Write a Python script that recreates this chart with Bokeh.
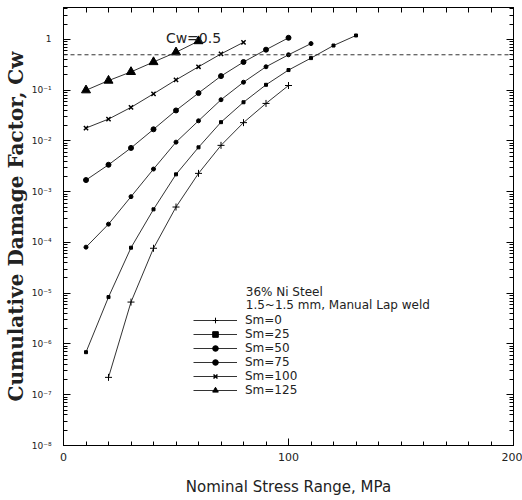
from bokeh.plotting import figure
from bokeh.models import (FixedTicker, LinearAxis, LogAxis, Span, Label, Legend,
                          LegendItem, Range1d, CustomJSTickFormatter)
from bokeh.embed import file_html
from bokeh.resources import INLINE

# ---- data ----
series_labels = ["Sm=0", "Sm=25", "Sm=50", "Sm=75", "Sm=100", "Sm=125"]

stress_sm0 = [20, 30, 40, 50, 60, 70, 80, 90, 100]
cw_sm0 = [2.2e-7, 6.7e-6, 7.7e-5, 5.0e-4, 2.3e-3, 8.2e-3, 0.023, 0.055, 0.124]

stress_sm25 = [10, 20, 30, 40, 50, 60, 70, 80, 90, 100, 110, 120, 130]
cw_sm25 = [6.9e-7, 8.4e-6, 7.9e-5, 4.5e-4, 2.2e-3, 7.5e-3, 0.0235, 0.058,
           0.128, 0.25, 0.43, 0.76, 1.2]

stress_sm50 = [10, 20, 30, 40, 50, 60, 70, 80, 90, 100, 110]
cw_sm50 = [8.1e-5, 2.3e-4, 8.0e-4, 2.8e-3, 9.5e-3, 0.025, 0.065, 0.144,
           0.29, 0.50, 0.83]

stress_sm75 = [10, 20, 30, 40, 50, 60, 70, 80, 90, 100]
cw_sm75 = [1.7e-3, 3.4e-3, 7.3e-3, 0.017, 0.040, 0.088, 0.19, 0.36, 0.63, 1.08]

stress_sm100 = [10, 20, 30, 40, 50, 60, 70, 80]
cw_sm100 = [0.018, 0.027, 0.046, 0.085, 0.16, 0.29, 0.52, 0.88]

stress_sm125 = [10, 20, 30, 40, 50, 60]
cw_sm125 = [0.10, 0.155, 0.23, 0.36, 0.56, 0.93]

cw_limit = 0.5
cw_limit_text = "Cw=0.5"
legend_title = ["36% Ni Steel", "1.5~1.5 mm, Manual Lap weld"]

x_ticks = [0, 100, 200]
x_minor_ticks = list(range(0, 201, 10))
y_decades = [-8, -7, -6, -5, -4, -3, -2, -1, 0]
y_tick_labels = ["10\u207b\u2078", "10\u207b\u2077", "10\u207b\u2076", "10\u207b\u2075",
                 "10\u207b\u2074", "10\u207b\u00b3", "10\u207b\u00b2", "10\u207b\u00b9", "1"]

y_ticks = [10.0 ** e for e in y_decades]
y_minor = [m * 10.0 ** e for e in y_decades for m in range(2, 10)]

p = figure(width=522, height=500, x_range=Range1d(0, 200), y_range=Range1d(1e-8, 4.27),
           y_axis_type="log", output_backend="svg", toolbar_location=None,
           min_border_left=63, min_border_right=9, min_border_top=7, min_border_bottom=55)
p.background_fill_color = "white"
p.border_fill_color = "white"
p.outline_line_color = "black"
p.outline_line_width = 1
p.xgrid.visible = False
p.ygrid.visible = False

ink = "#222222"
blank = CustomJSTickFormatter(code="return '';")

# bottom axis
xa = p.xaxis[0]
xa.ticker = FixedTicker(ticks=x_ticks, minor_ticks=x_minor_ticks)
xa.major_tick_in = 7
xa.major_tick_out = 0
xa.minor_tick_in = 4
xa.minor_tick_out = 0
xa.axis_line_color = "black"
xa.major_label_text_font = "DejaVu Sans"
xa.major_label_text_font_size = "11px"
xa.major_label_text_color = ink
xa.major_label_standoff = 7
xa.axis_label = "Nominal Stress Range, MPa"
xa.axis_label_text_font = "DejaVu Sans"
xa.axis_label_text_font_style = "normal"
xa.axis_label_text_font_size = "15px"
xa.axis_label_text_color = ink
xa.axis_label_standoff = 14

# left axis
ya = p.yaxis[0]
ya.ticker = FixedTicker(ticks=y_ticks, minor_ticks=y_minor)
ya.formatter = CustomJSTickFormatter(args=dict(labels=y_tick_labels), code="""
const e = Math.round(Math.log10(tick));
return labels[e + 8];
""")
ya.major_tick_in = 7
ya.major_tick_out = 0
ya.minor_tick_in = 4
ya.minor_tick_out = 0
ya.axis_line_color = "black"
ya.major_label_text_font = "DejaVu Sans"
ya.major_label_text_font_size = "9px"
ya.major_label_text_color = ink
ya.major_label_standoff = 12
ya.axis_label = "Cumulative Damage Factor, Cw"
ya.axis_label_text_font = "DejaVu Serif"
ya.axis_label_text_font_style = "bold"
ya.axis_label_text_font_size = "20px"
ya.axis_label_text_color = ink
ya.axis_label_standoff = 1

# top axis (ticks only)
top = LinearAxis(ticker=FixedTicker(ticks=x_minor_ticks), formatter=blank,
                 major_tick_in=5, major_tick_out=0, minor_tick_in=0, minor_tick_out=0,
                 major_label_standoff=0, axis_line_color="black")
p.add_layout(top, "above")

# right axis (ticks only)
right = LogAxis(ticker=FixedTicker(ticks=y_ticks, minor_ticks=y_minor), formatter=blank,
                major_tick_in=7, major_tick_out=0, minor_tick_in=4, minor_tick_out=0,
                major_label_standoff=0, axis_line_color="black")
p.add_layout(right, "right")

# Cw = 0.5 limit
p.add_layout(Span(location=cw_limit, dimension="width", line_color="#333333",
                  line_width=1, line_dash="4 3"))
p.add_layout(Label(x=45.5, y=1.09, text=cw_limit_text, text_font="DejaVu Sans",
                   text_font_size="14px", text_color=ink, text_baseline="middle"))

series = [
    (stress_sm0, cw_sm0, "cross", 7, 1.0),
    (stress_sm25, cw_sm25, "square", 3, 1.0),
    (stress_sm50, cw_sm50, "circle", 4, 1.0),
    (stress_sm75, cw_sm75, "circle", 5, 1.0),
    (stress_sm100, cw_sm100, "x", 6, 1.5),
    (stress_sm125, cw_sm125, "triangle", 9, 1.0),
]

items = []
for label, (xs, ys, marker, size, lw) in zip(series_labels, series):
    lr = p.line(xs, ys, line_color="#333333", line_width=1)
    sr = p.scatter(xs, ys, marker=marker, size=size, line_color="black",
                   fill_color="black", line_width=lw)
    items.append(LegendItem(label=label, renderers=[lr, sr]))

legend = Legend(items=items, location=(130, 48), orientation="vertical",
                background_fill_alpha=0, border_line_alpha=0, padding=0, margin=0,
                spacing=0, glyph_width=44, glyph_height=14, label_height=14,
                label_standoff=8, label_text_font="DejaVu Sans",
                label_text_font_size="12px", label_text_color=ink)
p.add_layout(legend, "center")

p.add_layout(Label(x=81, y=1.08e-5, text=legend_title[0], text_font="DejaVu Sans",
                   text_font_size="12px", text_color=ink, text_baseline="middle"))
p.add_layout(Label(x=81, y=6.0e-6, text=legend_title[1], text_font="DejaVu Sans",
                   text_font_size="12px", text_color=ink, text_baseline="middle"))

open("out.html", "w").write(file_html(p, INLINE))
